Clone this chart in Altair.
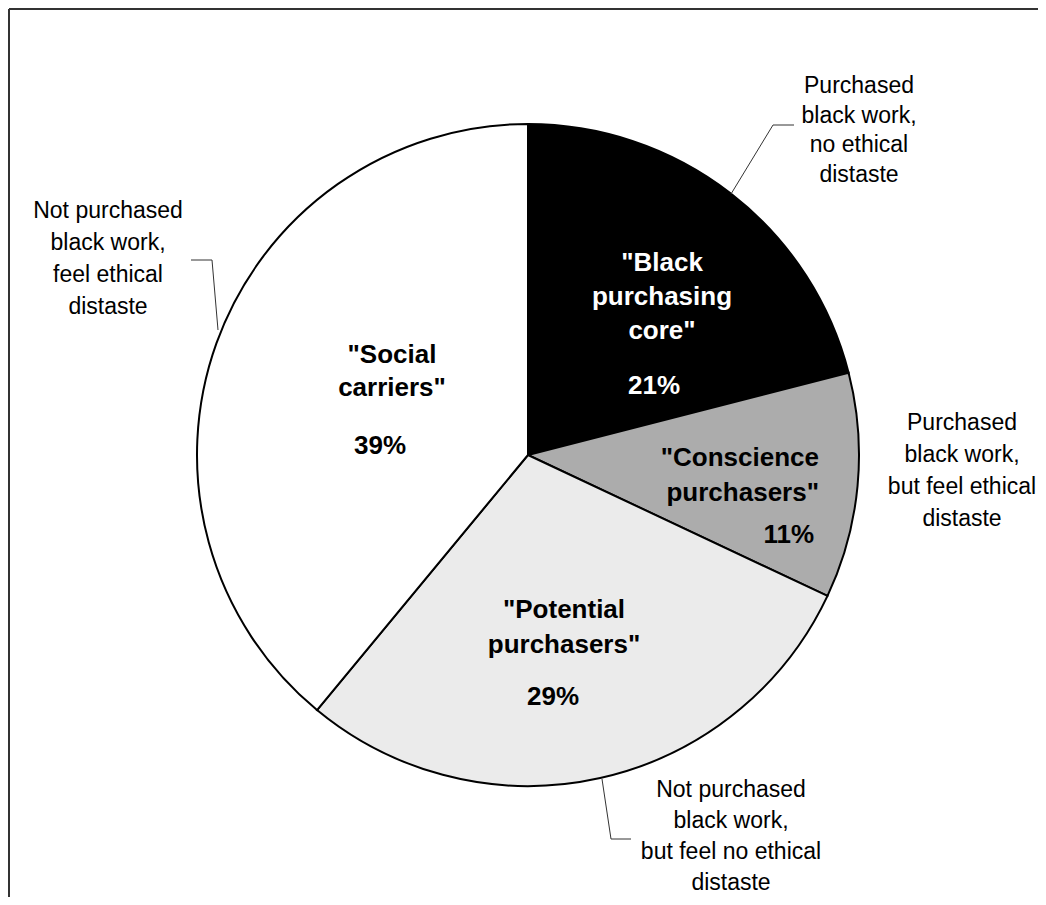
import altair as alt
import pandas as pd

# ---- data ----
segments = ["Black purchasing core", "Conscience purchasers", "Potential purchasers", "Social carriers"]
shares = [21, 11, 29, 39]
inner_labels = ['"Black\npurchasing\ncore"', '"Conscience\npurchasers"', '"Potential\npurchasers"', '"Social\ncarriers"']
pct_labels = ["21%", "11%", "29%", "39%"]
outer_labels = [
    "Purchased\nblack work,\nno ethical\ndistaste",
    "Purchased\nblack work,\nbut feel ethical\ndistaste",
    "Not purchased\nblack work,\nbut feel no ethical\ndistaste",
    "Not purchased\nblack work,\nfeel ethical\ndistaste",
]

FONT = "Liberation Sans"
df = pd.DataFrame({"segment": segments, "share": shares, "order": list(range(len(segments)))})

CX, CY, R = 519, 446, 331

pie = alt.Chart(df).mark_arc(stroke="black", strokeWidth=2).encode(
    theta=alt.Theta("share:Q", stack=True),
    order=alt.Order("order:Q"),
    color=alt.Color("segment:N",
                    scale=alt.Scale(domain=segments, range=["#000000", "#acacac", "#ebebeb", "#ffffff"]),
                    legend=None),
    x=alt.value(CX), y=alt.value(CY),
    radius=alt.value(R),
)


def txt(text, x, y, size, bold, color="black", lh=32, align="center"):
    return alt.Chart(pd.DataFrame({"t": [text]})).mark_text(
        font=FONT, fontSize=size, fontWeight="bold" if bold else "normal",
        color=color, align=align, baseline="alphabetic", lineBreak="\n", lineHeight=lh,
    ).encode(text="t:N", x=alt.value(x), y=alt.value(y))


def rule(x1, y1, x2, y2, w=1, c="#333333"):
    return alt.Chart(pd.DataFrame({"a": [0]})).mark_rule(color=c, strokeWidth=w).encode(
        x=alt.value(x1), y=alt.value(y1), x2=alt.value(x2), y2=alt.value(y2))


IN, OUT = 26, 23
layers = [pie]
# inner labels
layers.append(txt(inner_labels[0], 653, 262, IN, True, "white", 34))
layers.append(txt(pct_labels[0], 645, 385, IN, True, "white"))
layers.append(txt(inner_labels[1], 810, 457, IN, True, "black", 35, "right"))
layers.append(txt(pct_labels[1], 805, 534, IN, True, "black", 34, "right"))
layers.append(txt(inner_labels[2], 555, 609, IN, True, "black", 35))
layers.append(txt(pct_labels[2], 544, 696, IN, True))
layers.append(txt(inner_labels[3], 383, 354, IN, True, "black", 33))
layers.append(txt(pct_labels[3], 371, 445, IN, True))
# outer labels
layers.append(txt(outer_labels[0], 850, 84, OUT, False, lh=29.5))
layers.append(txt(outer_labels[1], 953, 421, OUT, False, lh=32))
layers.append(txt(outer_labels[2], 722, 788, OUT, False, lh=31))
layers.append(txt(outer_labels[3], 99, 209, OUT, False, lh=32))
# leader lines
layers += [rule(722, 185, 764, 116), rule(764, 116, 785, 116)]
layers += [rule(182, 251, 203, 251), rule(203, 251, 209, 321)]
layers += [rule(593, 770, 602, 830), rule(602, 830, 622, 830)]
# frame (left and top edges visible)
layers += [rule(0, 0, 0, 889, 2), rule(0, 0, 1030, 0, 2)]

chart = alt.layer(*layers).properties(
    width=1030, height=889,
    autosize=alt.AutoSizeParams(type="fit", contains="padding"),
    padding=0,
).configure_view(stroke=None)

chart.save("out.html", embed_options={"renderer": "svg", "actions": False})
